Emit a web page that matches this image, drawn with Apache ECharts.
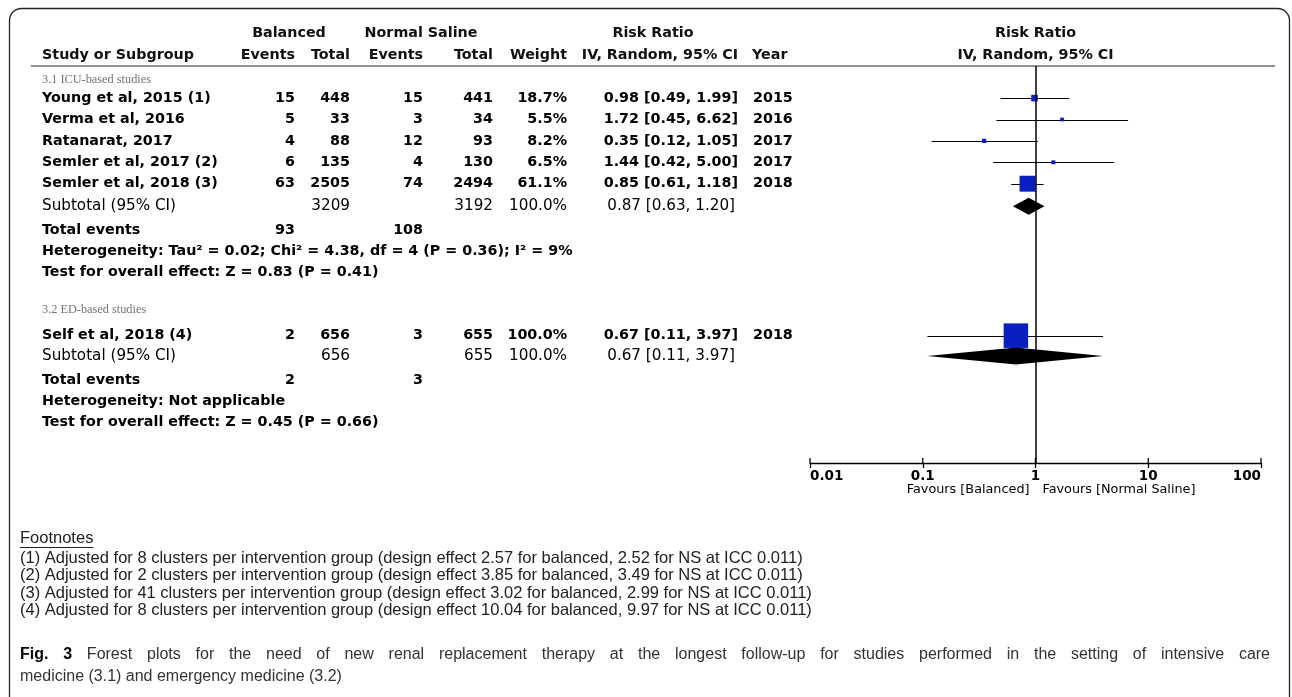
<!DOCTYPE html>
<html><head><meta charset="utf-8">
<script src="https://cdn.jsdelivr.net/npm/echarts@6/dist/echarts.min.js"></script>
<style>html,body{margin:0;padding:0;background:#fff}#c{width:1292px;height:697px}</style>
</head><body><div id="c"></div>
<script>
// ---------------- DATA ----------------
const studies = ['Young et al, 2015 (1)', 'Verma et al, 2016', 'Ratanarat, 2017', 'Semler et al, 2017 (2)', 'Semler et al, 2018 (3)', 'Self et al, 2018 (4)'];
const studyGroup = [0, 0, 0, 0, 0, 1];
const balEvents = [15, 5, 4, 6, 63, 2];
const balTotal = [448, 33, 88, 135, 2505, 656];
const nsEvents = [15, 3, 12, 4, 74, 3];
const nsTotal = [441, 34, 93, 130, 2494, 655];
const weights = [18.7, 5.5, 8.2, 6.5, 61.1, 100.0];
const riskRatio = [0.98, 1.72, 0.35, 1.44, 0.85, 0.67];
const ciLow = [0.49, 0.45, 0.12, 0.42, 0.61, 0.11];
const ciHigh = [1.99, 6.62, 1.05, 5.00, 1.18, 3.97];
const years = [2015, 2016, 2017, 2017, 2018, 2018];

const subgroups = ['3.1 ICU-based studies', '3.2 ED-based studies'];
const subBalTotal = [3209, 656];
const subNsTotal = [3192, 655];
const subWeight = ['100.0%', '100.0%'];
const subRR = [0.87, 0.67];
const subLow = [0.63, 0.11];
const subHigh = [1.20, 3.97];
const totalEventsBal = [93, 2];
const totalEventsNs = [108, 3];
const heterogeneity = ['Heterogeneity: Tau\u00b2 = 0.02; Chi\u00b2 = 4.38, df = 4 (P = 0.36); I\u00b2 = 9%', 'Heterogeneity: Not applicable'];
const overallEffect = ['Test for overall effect: Z = 0.83 (P = 0.41)', 'Test for overall effect: Z = 0.45 (P = 0.66)'];

const axisTicks = [0.01, 0.1, 1, 10, 100];
const tickLabels = ['0.01', '0.1', '1', '10', '100'];
const favours = ['Favours [Balanced]', 'Favours [Normal Saline]'];

const footnotes = [
  '(1) Adjusted for 8 clusters per intervention group (design effect 2.57 for balanced, 2.52 for NS at ICC 0.011)',
  '(2) Adjusted for 2 clusters per intervention group (design effect 3.85 for balanced, 3.49 for NS at ICC 0.011)',
  '(3) Adjusted for 41 clusters per intervention group (design effect 3.02 for balanced, 2.99 for NS at ICC 0.011)',
  '(4) Adjusted for 8 clusters per intervention group (design effect 10.04 for balanced, 9.97 for NS at ICC 0.011)'
];
const captionLabel = 'Fig. 3';
const captionLines = [
  'Forest plots for the need of new renal replacement therapy at the longest follow-up for studies performed in the setting of intensive care',
  'medicine (3.1) and emergency medicine (3.2)'
];

// ---------------- LAYOUT (row slots on the y scale) ----------------
const studySlot = [1, 2, 3, 4, 5, 12.1];
const labelSlot = [0.15, 10.9];
const subtotalSlot = [6.05, 13.05];
const totEvSlot = [7.16, 14.17];
const hetSlot = [8.14, 15.15];
const testSlot = [9.13, 16.14];
const Y_MIN = -0.5, Y_MAX = 18.05;

const col = {study: 42, balEv: 295, balTot: 350, nsEv: 423, nsTot: 493, weight: 567, rr: 738, year: 753};
const BOLD = {fontFamily: 'DejaVu Sans', fontWeight: 'bold', fontSize: 14.3, fill: '#000'};
const REG = {fontFamily: 'DejaVu Sans', fontWeight: 'normal', fontSize: 15.2, fill: '#000'};
const HEAD = {fontFamily: 'DejaVu Sans', fontWeight: 'bold', fontSize: 14.3, fill: '#111'};
const GRAY = {fontFamily: 'Liberation Serif', fontWeight: 'normal', fontSize: 12.3, fill: '#737373'};

const chart = echarts.init(document.getElementById('c'));

const ciData = studies.map((s, i) => [ciLow[i], ciHigh[i], studySlot[i]]);
const sqData = studies.map((s, i) => [riskRatio[i], studySlot[i], weights[i]]);
const dmData = subRR.map((v, i) => [v, subLow[i], subHigh[i], subtotalSlot[i]]);

chart.setOption({
  animation: false,
  grid: {left: 810, right: 31, top: 66, bottom: 234, containLabel: false},
  xAxis: {
    type: 'log', logBase: 10, min: 0.01, max: 100, position: 'bottom',
    axisLine: {show: true, onZero: false, lineStyle: {color: '#000', width: 1.3}},
    axisTick: {show: true, length: 5, lineStyle: {color: '#000', width: 1.3}},
    splitLine: {show: false},
    axisLabel: {
      margin: 6, color: '#000', fontFamily: 'DejaVu Sans', fontWeight: 'bold', fontSize: 13.5,
      alignMinLabel: 'left', alignMaxLabel: 'right',
      formatter: v => {
        let best = 0;
        axisTicks.forEach((t, i) => { if (Math.abs(Math.log10(t) - Math.log10(v)) < Math.abs(Math.log10(axisTicks[best]) - Math.log10(v))) best = i; });
        return tickLabels[best];
      }
    }
  },
  yAxis: {type: 'value', inverse: true, min: Y_MIN, max: Y_MAX, show: false},
  series: [{
    type: 'custom', name: 'ci', data: ciData, encode: {x: [0, 1], y: 2},
    renderItem: (p, api) => {
      const a = api.coord([api.value(0), api.value(2)]);
      const b = api.coord([api.value(1), api.value(2)]);
      const y = Math.round(a[1]) + 0.5;
      return {type: 'line', shape: {x1: a[0], y1: y, x2: b[0], y2: y}, style: {stroke: '#000', lineWidth: 1.2}};
    },
    markLine: {
      silent: true, symbol: 'none', label: {show: false},
      lineStyle: {color: '#000', width: 1.5, type: 'solid'},
      data: [{xAxis: 1}]
    },
    z: 2
  }, {
    type: 'custom', name: 'innerTicks', data: axisTicks.map(v => [v]), encode: {x: 0},
    renderItem: (p, api) => {
      const c = api.coord([api.value(0), Y_MAX]);
      return {type: 'line', shape: {x1: c[0], y1: c[1], x2: c[0], y2: c[1] - 5}, style: {stroke: '#000', lineWidth: 1.3}};
    },
    z: 2
  }, {
    type: 'custom', name: 'squares', data: sqData, encode: {x: 0, y: 1},
    renderItem: (p, api) => {
      const c = api.coord([api.value(0), api.value(1)]);
      const s = 0.22 * api.value(2) + 2.5;
      return {type: 'rect', shape: {x: c[0] - s / 2, y: c[1] - s / 2, width: s, height: s}, style: {fill: '#0a1fc2'}};
    },
    z: 3
  }, {
    type: 'custom', name: 'diamonds', data: dmData, encode: {x: [0, 1, 2], y: 3},
    renderItem: (p, api) => {
      const m = api.coord([api.value(0), api.value(3)]);
      const l = api.coord([api.value(1), api.value(3)]);
      const r = api.coord([api.value(2), api.value(3)]);
      const h = 8.5;
      return {type: 'polygon', shape: {points: [[l[0], m[1]], [m[0], m[1] - h], [r[0], m[1]], [m[0], m[1] + h]]}, style: {fill: '#000'}};
    },
    z: 3
  }]
});

const yPx = s => chart.convertToPixel({yAxisIndex: 0}, s);
const xPx = v => chart.convertToPixel({xAxisIndex: 0}, v);

const g = [];
function T(text, x, y, st, align) {
  g.push({type: 'text', x: x, y: y, silent: true,
    style: Object.assign({text: String(text), align: align || 'left', verticalAlign: 'middle'}, st)});
}
const cv = document.createElement('canvas').getContext('2d');
function measure(text, st) {
  cv.font = (st.fontWeight || 'normal') + ' ' + st.fontSize + 'px "' + st.fontFamily + '"';
  return cv.measureText(text).width;
}

// frame
g.push({type: 'rect', silent: true, shape: {x: 9.5, y: 8.5, width: 1280, height: 740, r: [12, 12, 0, 0]},
  style: {fill: 'none', stroke: '#222', lineWidth: 1.3}});
// header rule
g.push({type: 'line', silent: true, shape: {x1: 31, y1: 66, x2: 1275, y2: 66}, style: {stroke: '#222', lineWidth: 1.2}});

// headers
T('Balanced', 289, 33, HEAD, 'center');
T('Normal Saline', 421, 33, HEAD, 'center');
T('Risk Ratio', 653, 33, HEAD, 'center');
T('Study or Subgroup', col.study, 55, HEAD, 'left');
T('Events', col.balEv, 55, HEAD, 'right');
T('Total', col.balTot, 55, HEAD, 'right');
T('Events', col.nsEv, 55, HEAD, 'right');
T('Total', col.nsTot, 55, HEAD, 'right');
T('Weight', col.weight, 55, HEAD, 'right');
T('IV, Random, 95% CI', col.rr, 55, HEAD, 'right');
T('Year', 752, 55, HEAD, 'left');
const c1 = xPx(1);
T('Risk Ratio', c1, 33, HEAD, 'center');
T('IV, Random, 95% CI', c1, 55, HEAD, 'center');

const f2 = v => v.toFixed(2);
subgroups.forEach((sg, gi) => {
  T(sg, col.study, yPx(labelSlot[gi]), GRAY, 'left');
  studies.forEach((s, i) => {
    if (studyGroup[i] !== gi) return;
    const y = yPx(studySlot[i]);
    T(s, col.study, y, BOLD);
    T(balEvents[i], col.balEv, y, BOLD, 'right');
    T(balTotal[i], col.balTot, y, BOLD, 'right');
    T(nsEvents[i], col.nsEv, y, BOLD, 'right');
    T(nsTotal[i], col.nsTot, y, BOLD, 'right');
    T(weights[i].toFixed(1) + '%', col.weight, y, BOLD, 'right');
    T(f2(riskRatio[i]) + ' [' + f2(ciLow[i]) + ', ' + f2(ciHigh[i]) + ']', col.rr, y, BOLD, 'right');
    T(years[i], col.year, y, BOLD, 'left');
  });
  let y = yPx(subtotalSlot[gi]);
  T('Subtotal (95% CI)', col.study, y, REG);
  T(subBalTotal[gi], col.balTot, y, REG, 'right');
  T(subNsTotal[gi], col.nsTot, y, REG, 'right');
  T(subWeight[gi], col.weight, y, REG, 'right');
  T(f2(subRR[gi]) + ' [' + f2(subLow[gi]) + ', ' + f2(subHigh[gi]) + ']', col.rr - 3, y, REG, 'right');
  y = yPx(totEvSlot[gi]);
  T('Total events', col.study, y, BOLD);
  T(totalEventsBal[gi], col.balEv, y, BOLD, 'right');
  T(totalEventsNs[gi], col.nsEv, y, BOLD, 'right');
  T(heterogeneity[gi], col.study, yPx(hetSlot[gi]), BOLD);
  T(overallEffect[gi], col.study, yPx(testSlot[gi]), BOLD);
});

// favours
const FAV = {fontFamily: 'DejaVu Sans', fontSize: 12.8, fill: '#000'};
T(favours[0], c1 - 6, 490, FAV, 'right');
T(favours[1], c1 + 7, 490, FAV, 'left');

// footnotes
const FN = {fontFamily: 'Liberation Sans', fontWeight: 'normal', fontSize: 16.5, fill: '#222'};
T('Footnotes', 20, 538.5, FN, 'left');
const fw = measure('Footnotes', FN);
g.push({type: 'line', silent: true, shape: {x1: 20, y1: 547.5, x2: 20 + fw, y2: 547.5}, style: {stroke: '#222', lineWidth: 1}});
footnotes.forEach((t, i) => T(t, 20, 558 + i * 17.5, FN, 'left'));

// caption (first line justified)
const CAP = {fontFamily: 'Liberation Sans', fontWeight: 'normal', fontSize: 16, fill: '#333'};
const CAPB = {fontFamily: 'Liberation Sans', fontWeight: 'bold', fontSize: 16, fill: '#000'};
const words = captionLabel.split(' ').map(w => [w, CAPB]).concat(captionLines[0].split(' ').map(w => [w, CAP]));
const widths = words.map(w => measure(w[0], w[1]));
const sumW = widths.reduce((a, b) => a + b, 0);
const gap = (1270 - 20 - sumW) / (words.length - 1);
let cx = 20;
words.forEach((w, i) => { T(w[0], cx, 655, w[1], 'left'); cx += widths[i] + gap; });
T(captionLines[1], 20, 677, CAP, 'left');

chart.setOption({graphic: {elements: g}});
</script>
</body></html>
